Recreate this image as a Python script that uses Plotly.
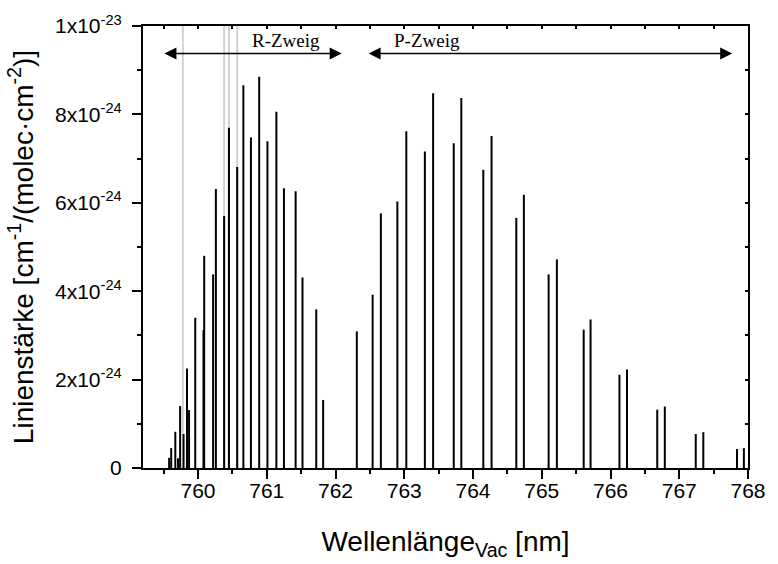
import plotly.graph_objects as go

# O2 A-band line strengths, in units of 1e-24 cm^-1/(molec*cm^-2)
UNIT = 1e-24

r_branch_nm = [759.58, 759.61, 759.67, 759.71, 759.74, 759.79, 759.84, 759.87,
               759.96, 760.08, 760.09, 760.22, 760.26, 760.38, 760.45, 760.57,
               760.66, 760.77, 760.89, 761.01, 761.14, 761.25, 761.42, 761.52,
               761.72, 761.82]
r_branch_s = [0.23, 0.45, 0.82, 0.22, 1.40, 0.77, 2.25, 1.31,
              3.40, 3.12, 4.80, 4.38, 6.31, 5.70, 7.70, 6.81,
              8.66, 7.48, 8.85, 7.39, 8.06, 6.33, 6.26, 4.31,
              3.59, 1.54]

p_branch_nm = [762.31, 762.54, 762.66, 762.90, 763.03, 763.30, 763.42, 763.72,
               763.83, 764.15, 764.27, 764.63, 764.74, 765.10, 765.22, 765.61,
               765.71, 766.13, 766.24, 766.68, 766.79, 767.24, 767.35, 767.84,
               767.94]
p_branch_s = [3.09, 3.92, 5.76, 6.03, 7.62, 7.16, 8.48, 7.35,
              8.37, 6.75, 7.51, 5.66, 6.18, 4.38, 4.72, 3.13,
              3.36, 2.11, 2.23, 1.32, 1.39, 0.77, 0.81, 0.43,
              0.45]

# highlighted line positions (full-height grey markers)
marked_nm = [759.78, 760.38, 760.45, 760.57]

x_ticks = [760, 761, 762, 763, 764, 765, 766, 767, 768]
y_tick_vals = [0, 2, 4, 6, 8, 10]
y_tick_text = ["0", "2x10<sup>-24</sup>", "4x10<sup>-24</sup>",
               "6x10<sup>-24</sup>", "8x10<sup>-24</sup>", "1x10<sup>-23</sup>"]

X_RANGE = [759.2, 768.0]
Y_MAX = 10

R_ARROW = [759.49, 762.09]
P_ARROW = [762.46, 767.77]
ARROW_Y = 9.38
LABEL_Y = 9.68

SANS = "Liberation Sans, Arial, sans-serif"
SERIF = "Liberation Serif, Times New Roman, serif"


def sticks(xs, heights):
    px, py = [], []
    for x, h in zip(xs, heights):
        px += [x, x, None]
        py += [0, h * UNIT, None]
    return px, py


fig = go.Figure()

gx, gy = sticks(marked_nm, [Y_MAX] * len(marked_nm))
fig.add_trace(go.Scatter(x=gx, y=gy, mode="lines",
                         line=dict(color="#d2d2d2", width=2),
                         hoverinfo="skip", showlegend=False))

sx, sy = sticks(r_branch_nm + p_branch_nm, r_branch_s + p_branch_s)
fig.add_trace(go.Scatter(x=sx, y=sy, mode="lines",
                         line=dict(color="black", width=2),
                         showlegend=False))

# helper trace so the mirrored top/right tick axes get drawn
fig.add_trace(go.Scatter(x=[None], y=[None], xaxis="x2", yaxis="y2",
                         showlegend=False, hoverinfo="skip"))

fig.update_layout(
    width=778, height=564,
    margin=dict(l=143, r=19, t=20, b=95),
    plot_bgcolor="white", paper_bgcolor="white",
    font=dict(family=SANS, color="black"),
    xaxis=dict(
        range=X_RANGE, tickvals=x_ticks, ticks="outside", ticklen=9,
        tickwidth=2, tickcolor="black", ticklabelstandoff=-6,
        minor=dict(dtick=0.5, ticks="outside", ticklen=4, tickwidth=1.5,
                   tickcolor="black", showgrid=False),
        showline=True, linewidth=2, linecolor="black", mirror=True,
        showgrid=False, zeroline=False,
        tickfont=dict(size=21, family=SANS, color="black"),
        title=dict(text="Wellenlänge<sub>Vac</sub> [nm]",
                   font=dict(size=28, family=SANS, color="black"),
                   standoff=30),
    ),
    yaxis=dict(
        range=[0, Y_MAX * UNIT],
        tickvals=[v * UNIT for v in y_tick_vals], ticktext=y_tick_text,
        ticks="outside", ticklen=9, tickwidth=2, tickcolor="black",
        ticklabelstandoff=6,
        minor=dict(dtick=UNIT, ticks="outside", ticklen=4, tickwidth=1.5,
                   tickcolor="black", showgrid=False),
        showline=True, linewidth=2, linecolor="black", mirror=True,
        showgrid=False, zeroline=False,
        tickfont=dict(size=21, family=SANS, color="black"),
        title=dict(text="Linienstärke [cm<sup>-1</sup>/(molec·cm<sup>-2</sup>)]",
                   font=dict(size=28, family=SANS, color="black"),
                   standoff=13),
    ),
    xaxis2=dict(
        overlaying="x", side="top", range=X_RANGE, dtick=0.5, tick0=760,
        ticks="inside", ticklen=3, tickwidth=1.5, tickcolor="black",
        showticklabels=False, showgrid=False, zeroline=False, showline=False,
    ),
    yaxis2=dict(
        overlaying="y", side="right", range=[0, Y_MAX * UNIT], dtick=UNIT,
        tick0=0, ticks="inside", ticklen=3, tickwidth=1.5, tickcolor="black",
        showticklabels=False, showgrid=False, zeroline=False, showline=False,
    ),
)

for (x0, x1), label in [(R_ARROW, "R-Zweig"), (P_ARROW, "P-Zweig")]:
    fig.add_annotation(x=x1, y=ARROW_Y * UNIT, ax=x0, ay=ARROW_Y * UNIT,
                       xref="x", yref="y", axref="x", ayref="y",
                       text="", showarrow=True, arrowside="end+start",
                       arrowhead=2, arrowsize=1.6, arrowwidth=1.5,
                       arrowcolor="black", standoff=0, startstandoff=0)

fig.add_annotation(x=761.28, y=LABEL_Y * UNIT, text="R-Zweig", showarrow=False,
                   font=dict(family=SERIF, size=19, color="black"))
fig.add_annotation(x=763.33, y=LABEL_Y * UNIT, text="P-Zweig", showarrow=False,
                   font=dict(family=SERIF, size=19, color="black"))

fig.write_html("out.html")
